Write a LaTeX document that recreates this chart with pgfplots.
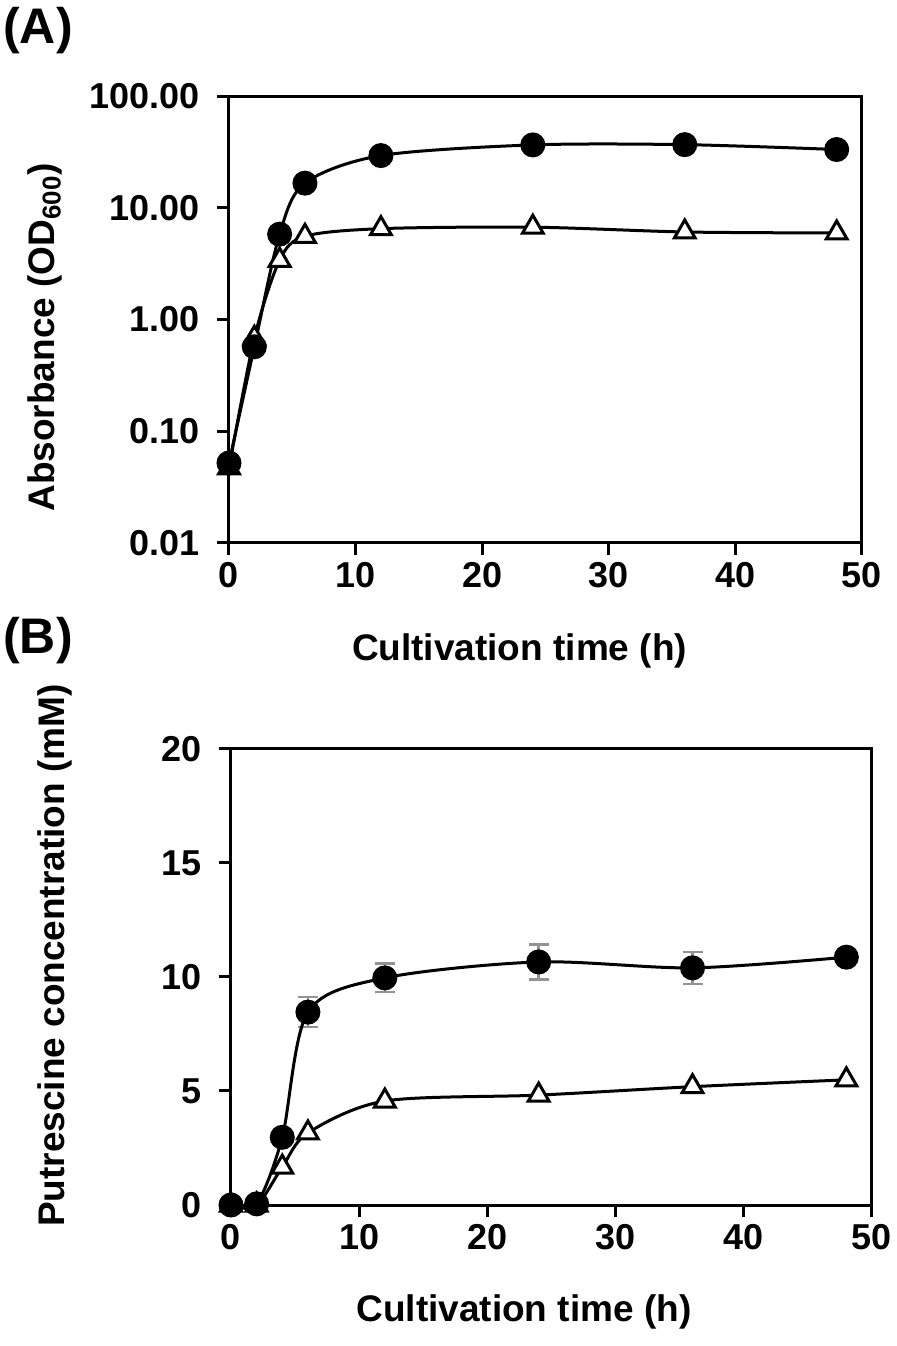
\documentclass[border=0pt]{standalone}
\usepackage{fontspec}
\setmainfont{Liberation Sans}
\usepackage{pgfplots}
\usepackage{pgfplotstable}
\pgfplotsset{compat=1.18}

\pgfplotstableread{
t y
0 0.052
2 0.57
4 5.8
6 16.6
12 29.3
24 36.5
36 36.7
48 33.2
}\Acirc
\pgfplotstableread{
t y
0 0.047
2 0.68
4 3.39
6 5.55
12 6.5
24 6.7
36 6.07
48 5.95
}\Atri
\pgfplotstableread{
t y e
0 0 0
2 0.05 0
4 2.97 0
6 8.46 0.66
12 9.96 0.63
24 10.66 0.77
36 10.4 0.70
48 10.87 0.15
}\Bcirc
\pgfplotstableread{
t y
0 0
2 0
4 1.66
6 3.16
12 4.56
24 4.82
36 5.19
48 5.49
}\Btri

\pgfplotsset{
  myax/.style={
    scale only axis,
    xmin=0, xmax=50,
    xtick={0,10,20,30,40,50},
    axis line style={line width=1.5pt},
    every tick/.style={line width=1.5pt, black},
    tick align=outside,
    major tick length=6pt,
    xtick pos=bottom, ytick pos=left,
    /pgf/number format/assume math mode=true,
    tick label style={font=\fontsize{18}{18}\selectfont\bfseries},
    yticklabel style={xshift=-5pt},
    label style={font=\fontsize{18.5}{18.5}\selectfont\bfseries},
    clip=false,
  },
  circ/.style={black, line width=1.5pt, smooth, mark=*, mark size=5.5pt, mark options={solid, fill=black}},
  tri/.style={black, line width=1.5pt, smooth, mark=triangle*, mark size=6pt, mark options={solid, fill=white, line width=1.5pt}},
}

\begin{document}
\begin{tikzpicture}[x=1pt,y=1pt]
\useasboundingbox (0,0) rectangle (448,673);
\node[font=\fontsize{25}{25}\selectfont\bfseries] at (19,657.5) {(A)};
\node[font=\fontsize{25}{25}\selectfont\bfseries] at (19,352.5) {(B)};

\begin{axis}[myax,
  at={(114.5pt,401.5pt)}, anchor=south west,
  width=316.5pt, height=223.5pt,
  ymode=log, ymin=0.01, ymax=100,
  ytick={0.01,0.1,1,10,100},
  yticklabels={0.01,0.10,1.00,10.00,100.00},
  yminorticks=false,
  xlabel={Cultivation time (h)},
  ylabel={Absorbance (OD\textsubscript{600})},
  xlabel style={at={(axis description cs:0.459,-0.2416)}, anchor=center},
  ylabel style={at={(axis description cs:-0.2907,0.46)}, anchor=center},
]
\addplot[tri] table[x=t,y=y]{\Atri};
\addplot[circ] table[x=t,y=y]{\Acirc};
\end{axis}

\begin{axis}[myax,
  at={(115.5pt,70.5pt)}, anchor=south west,
  width=320.5pt, height=228pt,
  ymin=0, ymax=20,
  ytick={0,5,10,15,20},
  xlabel={Cultivation time (h)},
  ylabel={Putrescine concentration (mM)},
  xlabel style={at={(axis description cs:0.457,-0.2336)}, anchor=center},
  ylabel style={at={(axis description cs:-0.2746,0.5469)}, anchor=center},
]
\addplot[tri] table[x=t,y=y]{\Btri};
\addplot[only marks, mark=none, forget plot,
  error bars/.cd, y dir=both, y explicit,
  error bar style={draw=gray!85, line width=1.2pt},
  error mark options={draw=gray!85, line width=1.2pt, mark size=5pt, rotate=90}]
  table[x=t,y=y,y error=e]{\Bcirc};
\addplot[circ] table[x=t,y=y]{\Bcirc};
\end{axis}
\end{tikzpicture}
\end{document}
